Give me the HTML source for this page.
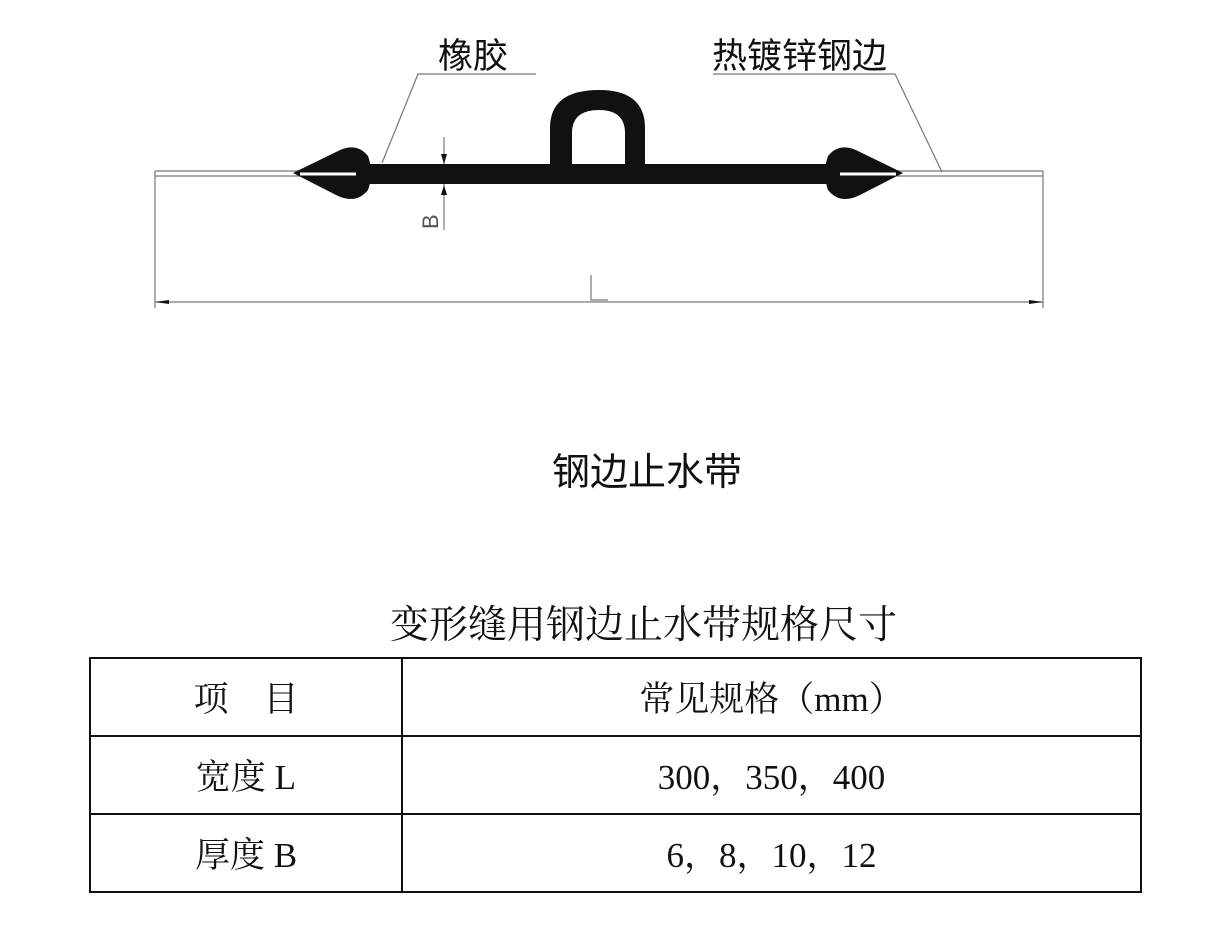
<!DOCTYPE html>
<html><head><meta charset="utf-8"><style>
body{margin:0;background:#fff;width:1224px;height:928px;overflow:hidden;position:relative;font-family:"Liberation Serif","Noto Serif CJK SC",serif;color:#111}
.t{position:absolute;white-space:nowrap}
table{position:absolute;left:89px;top:657px;border-collapse:collapse}
td{border:2px solid #111;height:76px;text-align:center;font-size:35px;padding:0}
</style></head><body>
<svg width="1224" height="928" style="position:absolute;left:0;top:0">
<g stroke="#777" stroke-width="1.2" fill="none">
<line x1="155" y1="171" x2="1043" y2="171"/>
<line x1="155" y1="176" x2="1043" y2="176"/>
<line x1="155" y1="171" x2="155" y2="308"/>
<line x1="1043" y1="171" x2="1043" y2="308"/>
<line x1="155" y1="302" x2="1043" y2="302"/>
<polyline points="536,74 418,74 382,163"/>
<polyline points="713,74 895,74 942,172"/>
<line x1="444" y1="137" x2="444" y2="230"/>
<polyline points="591,275 591,300 608,300"/>
</g>
<path d="M155,302 l14,-2 v4z M1043,302 l-14,-2 v4z" fill="#111"/>
<path d="M444,164 l-3,-10 h6z M444,185 l-3,10 h6z" fill="#111"/>
<g fill="#111">
<rect x="365" y="164" width="467" height="20"/>
<path d="M293,173 L336,152 Q356,141 368,156 Q374,173 368,190 Q356,205 336,195 Z"/>
<path d="M903,173 L860,152 Q840,141 828,156 Q822,173 828,190 Q840,205 860,195 Z"/>
<path d="M550,184 V128 Q550,90 599,90 Q645,90 645,128 V184 H625 V133 Q625,110 599,110 Q572,110 572,133 V184 Z"/>
</g>
<g stroke="#fff" stroke-width="3">
<line x1="300" y1="174" x2="356" y2="174"/>
<line x1="840" y1="174" x2="896" y2="174"/>
</g>
<text x="0" y="0" transform="translate(438,229) rotate(-90)" font-family="Liberation Sans" font-size="22" fill="#555">B</text>
</svg>
<div class="t" style="left:438px;top:28px;font-size:35px;font-family:'Liberation Sans','Noto Sans CJK SC',sans-serif">橡胶</div>
<div class="t" style="left:712px;top:28px;font-size:35px;font-family:'Liberation Sans','Noto Sans CJK SC',sans-serif">热镀锌钢边</div>
<div class="t" style="left:552px;top:441px;font-size:38px;font-family:'Liberation Sans','Noto Sans CJK SC',sans-serif">钢边止水带</div>
<div class="t" style="left:390px;top:594px;font-size:39px">变形缝用钢边止水带规格尺寸</div>
<table>
<tr><td style="width:310px">项&nbsp;&nbsp;&nbsp;&nbsp;目</td><td style="width:737px">常见规格（mm）</td></tr>
<tr><td>宽度 L</td><td>300，350，400</td></tr>
<tr><td>厚度 B</td><td>6，8，10，12</td></tr>
</table>
</body></html>
